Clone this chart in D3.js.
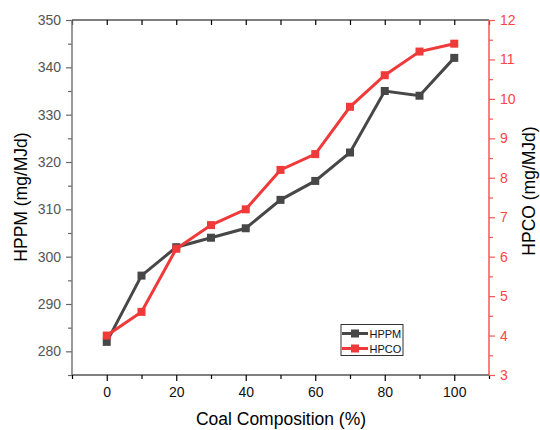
<!DOCTYPE html>
<html><head><meta charset="utf-8">
<script src="https://cdn.jsdelivr.net/npm/d3@7"></script>
<style>body{margin:0;background:#fff}svg{display:block}text{font-family:"Liberation Sans",Arial,sans-serif}</style>
</head><body><svg id="c" width="540" height="430"></svg>
<script>
const composition = [0,10,20,30,40,50,60,70,80,90,100];
const hppm = [282,296,302,304,306,312,316,322,335,334,342];
const hpco = [4.0,4.6,6.2,6.8,7.2,8.2,8.6,9.8,10.6,11.2,11.4];
const xTicks = [0,20,40,60,80,100];
const leftTicks = [280,290,300,310,320,330,340,350];
const rightTicks = [3,4,5,6,7,8,9,10,11,12];
const seriesNames = ["HPPM","HPCO"];

const cGray = "#474747", cRed = "#f03a3a";
const svg = d3.select("#c");
const L=72, R=489, T=20, B=375;
const x = d3.scaleLinear().domain([-10,110]).range([L,R]);
const yL = d3.scaleLinear().domain([275,350]).range([B,T]);
const yR = d3.scaleLinear().domain([3,12]).range([B,T]);

function styleAxis(g, color, textColor){
  g.selectAll(".domain").remove();
  g.selectAll("line").attr("stroke",color).attr("stroke-width",1.2);
  g.selectAll("text").attr("fill",textColor).attr("font-size",14);
}
// bottom minor
svg.append("g").attr("transform",`translate(0,${B})`)
  .call(d3.axisBottom(x).tickValues(d3.range(-10,111,20)).tickSize(4).tickFormat(""))
  .call(g=>styleAxis(g,"#000","#000"));
svg.append("g").attr("transform",`translate(0,${B})`)
  .call(d3.axisBottom(x).tickValues(xTicks).tickSize(6).tickPadding(6))
  .call(g=>styleAxis(g,"#000","#111"));
// top inward ticks
svg.append("g").attr("transform",`translate(0,${T})`)
  .call(d3.axisBottom(x).tickValues(d3.range(-10,111,10)).tickSize(5).tickFormat(""))
  .call(g=>styleAxis(g,"#000","#000"));
// left
svg.append("g").attr("transform",`translate(${L},0)`)
  .call(d3.axisLeft(yL).tickValues(d3.range(275,351,10)).tickSize(4).tickFormat(""))
  .call(g=>styleAxis(g,"#666","#555"));
svg.append("g").attr("transform",`translate(${L},0)`)
  .call(d3.axisLeft(yL).tickValues(leftTicks).tickSize(6).tickPadding(5))
  .call(g=>styleAxis(g,"#666","#555"));
// right
svg.append("g").attr("transform",`translate(${R},0)`)
  .call(d3.axisRight(yR).tickValues(d3.range(3.5,12,1)).tickSize(4).tickFormat(""))
  .call(g=>styleAxis(g,"#f55","#f44"));
svg.append("g").attr("transform",`translate(${R},0)`)
  .call(d3.axisRight(yR).tickValues(rightTicks).tickSize(6).tickPadding(5))
  .call(g=>styleAxis(g,"#f55","#f44"));
// frame lines
svg.append("line").attr("x1",L).attr("x2",R).attr("y1",T).attr("y2",T).attr("stroke","#000").attr("stroke-width",1.2);
svg.append("line").attr("x1",L).attr("x2",R).attr("y1",B).attr("y2",B).attr("stroke","#000").attr("stroke-width",1.2);
svg.append("line").attr("x1",L).attr("x2",L).attr("y1",T).attr("y2",B).attr("stroke","#777").attr("stroke-width",1.5);
svg.append("line").attr("x1",R).attr("x2",R).attr("y1",T).attr("y2",B).attr("stroke","#f55").attr("stroke-width",1.5);

function drawSeries(vals, scale, color){
  const data = composition.map((c,i)=>[c,vals[i]]);
  svg.append("path").datum(data).attr("fill","none").attr("stroke",color).attr("stroke-width",3)
    .attr("d", d3.line().x(d=>x(d[0])).y(d=>scale(d[1])));
  svg.selectAll(null).data(data).enter().append("rect")
    .attr("x",d=>x(d[0])-4).attr("y",d=>scale(d[1])-4).attr("width",8).attr("height",8).attr("fill",color);
}
drawSeries(hppm, yL, cGray);
drawSeries(hpco, yR, cRed);

// legend
const lg = svg.append("g");
lg.append("rect").attr("x",341).attr("y",324.5).attr("width",62).attr("height",31).attr("fill","#fff").attr("stroke","#333").attr("stroke-width",1);
[[cGray,333.5],[cRed,348.5]].forEach(([col,yy],i)=>{
  lg.append("line").attr("x1",342).attr("x2",368).attr("y1",yy).attr("y2",yy).attr("stroke",col).attr("stroke-width",3);
  lg.append("rect").attr("x",351).attr("y",yy-4).attr("width",8).attr("height",8).attr("fill",col);
  lg.append("text").attr("x",369.5).attr("y",yy+4).attr("font-size",11).attr("fill","#111").text(seriesNames[i]);
});

// titles
svg.append("text").attr("transform","translate(27,197) rotate(-90)").attr("text-anchor","middle").attr("font-size",17.5).attr("fill","#000").text("HPPM (mg/MJd)");
svg.append("text").attr("transform","translate(535,191) rotate(-90)").attr("text-anchor","middle").attr("font-size",17.5).attr("fill","#000").text("HPCO (mg/MJd)");
svg.append("text").attr("x",281).attr("y",425).attr("text-anchor","middle").attr("font-size",17.5).attr("fill","#000").text("Coal Composition (%)");
</script></body></html>
